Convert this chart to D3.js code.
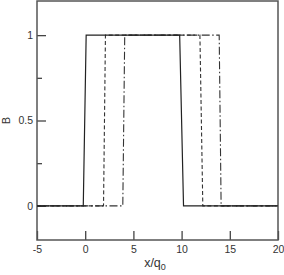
<!DOCTYPE html>
<html>
<head>
<meta charset="utf-8">
<script src="https://cdn.jsdelivr.net/npm/d3@7"></script>
<style>
body { margin: 0; background: #fff; }
text { font-family: "Liberation Sans", Arial, sans-serif; fill: #333; }
</style>
</head>
<body>
<script>
var w = 284, h = 275;
var m = {left: 37, right: 6, top: 1, bottom: 35};

// data
var solidX = [-5, -0.2, 0.1, 9.8, 10.2, 20];
var solidY = [0, 0, 1, 1, 0, 0];
var dashX = [-5, 1.9, 2.1, 11.9, 12.2, 20];
var dashY = [0, 0, 1, 1, 0, 0];
var dashDotX = [-5, 3.9, 4.1, 13.9, 14.1, 20];
var dashDotY = [0, 0, 1, 1, 0, 0];
var xTicks = [-5, 0, 5, 10, 15, 20];
var yTicks = [0, 0.5, 1];
var yMinor = [0.25, 0.75];

var x = d3.scaleLinear().domain([-5, 20]).range([m.left, w - m.right]);
var y = d3.scaleLinear().domain([-0.2, 1.2]).range([h - m.bottom, m.top]);

var svg = d3.select("body").append("svg").attr("width", w).attr("height", h);

function styleAxis(g) {
  g.select(".domain").remove();
  g.selectAll("line").attr("stroke", "#444").attr("stroke-width", 1.3);
  g.selectAll("text").style("font-size", "10.5px").attr("fill", "#333");
}

// axes (ticks inward)
svg.append("g").attr("transform", "translate(0," + (h - m.bottom) + ")")
  .call(d3.axisBottom(x).tickValues(xTicks).tickSizeInner(-9).tickSizeOuter(0).tickPadding(6).tickFormat(function(d){ return String(d); }))
  .call(styleAxis);

svg.append("g").attr("transform", "translate(" + m.left + ",0)")
  .call(d3.axisLeft(y).tickValues(yTicks).tickSizeInner(-9).tickSizeOuter(0).tickPadding(4).tickFormat(function(d){ return String(d); }))
  .call(styleAxis);

svg.append("g").attr("transform", "translate(" + m.left + ",0)")
  .call(d3.axisLeft(y).tickValues(yMinor).tickSizeInner(-5).tickSizeOuter(0).tickFormat(""))
  .call(styleAxis);

// frame
svg.append("rect").attr("x", m.left).attr("y", m.top)
  .attr("width", w - m.left - m.right).attr("height", h - m.top - m.bottom)
  .attr("fill", "none").attr("stroke", "#555").attr("stroke-width", 1.5);

var line = d3.line().x(function(d){ return x(d[0]); }).y(function(d){ return y(d[1]); });

function series(xs, ys) { return xs.map(function(v, i){ return [v, ys[i]]; }); }

svg.append("path").datum(series(dashDotX, dashDotY)).attr("d", line)
  .attr("fill", "none").attr("stroke", "#333").attr("stroke-width", 1.1).attr("stroke-dasharray", "8,2.5,1.5,2.5");
svg.append("path").datum(series(dashX, dashY)).attr("d", line)
  .attr("fill", "none").attr("stroke", "#333").attr("stroke-width", 1.1).attr("stroke-dasharray", "4,2.5");
svg.append("path").datum(series(solidX, solidY)).attr("d", line)
  .attr("fill", "none").attr("stroke", "#222").attr("stroke-width", 1.2);

// labels
svg.append("text").attr("transform", "translate(10," + y(0.5) + ") rotate(-90)")
  .attr("text-anchor", "middle").style("font-size", "11px").text("B");
var xl = svg.append("text").attr("x", 155).attr("y", 267).attr("text-anchor", "middle").style("font-size", "12.5px");
xl.append("tspan").text("x/q");
xl.append("tspan").attr("dy", 3).style("font-size", "9px").text("0");
</script>
</body>
</html>
